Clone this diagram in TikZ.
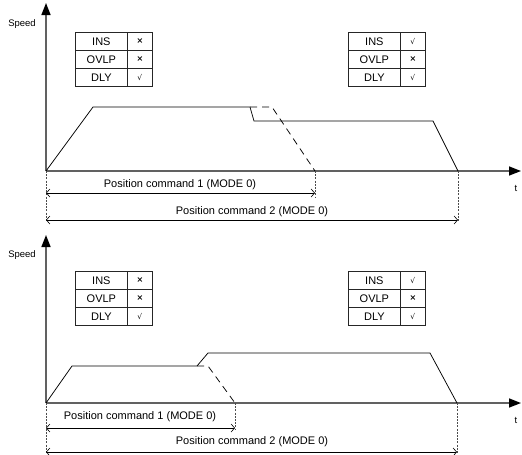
\documentclass[tikz,border=0pt]{standalone}
\usepackage{fontspec}
\setmainfont{Liberation Sans}
\newfontfamily\symfont{DejaVu Sans}
\usetikzlibrary{arrows.meta}
\newcommand\flagtable[6]{%
  \node[namecell] (#1i) at (#2,#3) {INS};
  \node[namecell] (#1o) at (#2,#3+18) {OVLP};
  \node[namecell] (#1d) at (#2,#3+36) {DLY};
  \node[markcell] (#1im) at (#2+52,#3) {#4};
  \node[markcell] (#1om) at (#2+52,#3+18) {#5};
  \node[markcell] (#1dm) at (#2+52,#3+36) {#6};
}
\newcommand\nomark{{\symfont\fontsize{8}{8}\selectfont\bfseries ×}}
\newcommand\yesmark{{\symfont\fontsize{7.5}{7.5}\selectfont √}}
\begin{document}
\begin{tikzpicture}[x=1pt,y=-1pt,
  axis/.style={draw=black!62, line width=1.6pt, -{Triangle[length=12pt,width=9pt,color=black]}},
  prof/.style={draw=black, line width=0.75pt},
  dprof/.style={draw=black, line width=0.75pt, dash pattern=on 7pt off 5pt},
  guide/.style={draw=black!70, line width=0.5pt, dash pattern=on 2pt off 1.2pt},
  dim/.style={draw=black, line width=0.6pt, {Straight Barb[length=3.5pt,width=8pt]}-{Straight Barb[length=3.5pt,width=8pt]}},
  lbl/.style={font=\fontsize{11}{11}\selectfont, inner sep=0},
  axlbl/.style={font=\fontsize{9.5}{9.5}\selectfont, inner sep=0},
  namecell/.style={draw=black!85, line width=0.75pt, minimum width=52pt, minimum height=18pt, inner sep=0, anchor=north west, font=\fontsize{11}{11}\selectfont},
  markcell/.style={draw=black!85, line width=0.75pt, minimum width=25pt, minimum height=18pt, inner sep=0, anchor=north west}]
\useasboundingbox (0,0) rectangle (522,455);

% ---------------- top diagram ----------------
\coordinate (O1) at (46,171);
\coordinate (Y1) at (46,3);
\coordinate (X1) at (521,171);
\draw[axis] (O1) -- (Y1);
\draw[axis] (O1) -- (X1);
\node[axlbl] (sp1) at (22,24) {Speed};
\node[axlbl] (t1) at (516,188) {t};

\flagtable{ta}{75}{32}{\nomark}{\nomark}{\yesmark}
\flagtable{tb}{348}{32}{\yesmark}{\nomark}{\yesmark}

\coordinate (a1) at (93,107);
\coordinate (a2) at (250,107);
\coordinate (a3) at (254,121);
\coordinate (a4) at (433,121);
\coordinate (a5) at (458,171);
\coordinate (a6) at (272,107);
\coordinate (a7) at (315,171);
\draw[prof] (O1) -- (a1) -- (a2) -- (a3) -- (a4) -- (a5);
\draw[dprof] (a2) -- (a6) -- (a7);

\coordinate (g1) at (46,222);
\coordinate (g2) at (315,197);
\coordinate (g3) at (458,222);
\draw[guide] (O1) -- (g1);
\draw[guide] (a7) -- (g2);
\draw[guide] (a5) -- (g3);
\coordinate (d1s) at (46,193);
\coordinate (d1e) at (315,193);
\coordinate (d2s) at (46,220);
\coordinate (d2e) at (458,220);
\draw[dim] (d1s) -- (d1e);
\draw[dim] (d2s) -- (d2e);
\node[lbl] (c1) at (180,185) {Position command 1 (MODE 0)};
\node[lbl] (c2) at (252,212) {Position command 2 (MODE 0)};

% ---------------- bottom diagram ----------------
\coordinate (O2) at (46,403);
\coordinate (Y2) at (46,235);
\coordinate (X2) at (521,403);
\draw[axis] (O2) -- (Y2);
\draw[axis] (O2) -- (X2);
\node[axlbl] (sp2) at (22,255) {Speed};
\node[axlbl] (t2) at (516,420) {t};

\flagtable{tc}{75}{271}{\nomark}{\nomark}{\yesmark}
\flagtable{td}{348}{271}{\yesmark}{\nomark}{\yesmark}

\coordinate (b1) at (72,366);
\coordinate (b2) at (197,366);
\coordinate (b3) at (208,353);
\coordinate (b4) at (430,353);
\coordinate (b5) at (457,403);
\coordinate (b6) at (208,366);
\coordinate (b7) at (235,403);
\draw[prof] (O2) -- (b1) -- (b2) -- (b3) -- (b4) -- (b5);
\draw[dprof] (b2) -- (b6) -- (b7);

\coordinate (h1) at (46,453);
\coordinate (h2) at (235,430);
\coordinate (h3) at (457,453);
\draw[guide] (O2) -- (h1);
\draw[guide] (b7) -- (h2);
\draw[guide] (b5) -- (h3);
\coordinate (e1s) at (46,428);
\coordinate (e1e) at (235,428);
\coordinate (e2s) at (46,452);
\coordinate (e2e) at (457,452);
\draw[dim] (e1s) -- (e1e);
\draw[dim] (e2s) -- (e2e);
\node[lbl] (c3) at (140,417) {Position command 1 (MODE 0)};
\node[lbl] (c4) at (252,442) {Position command 2 (MODE 0)};
\end{tikzpicture}
\end{document}
